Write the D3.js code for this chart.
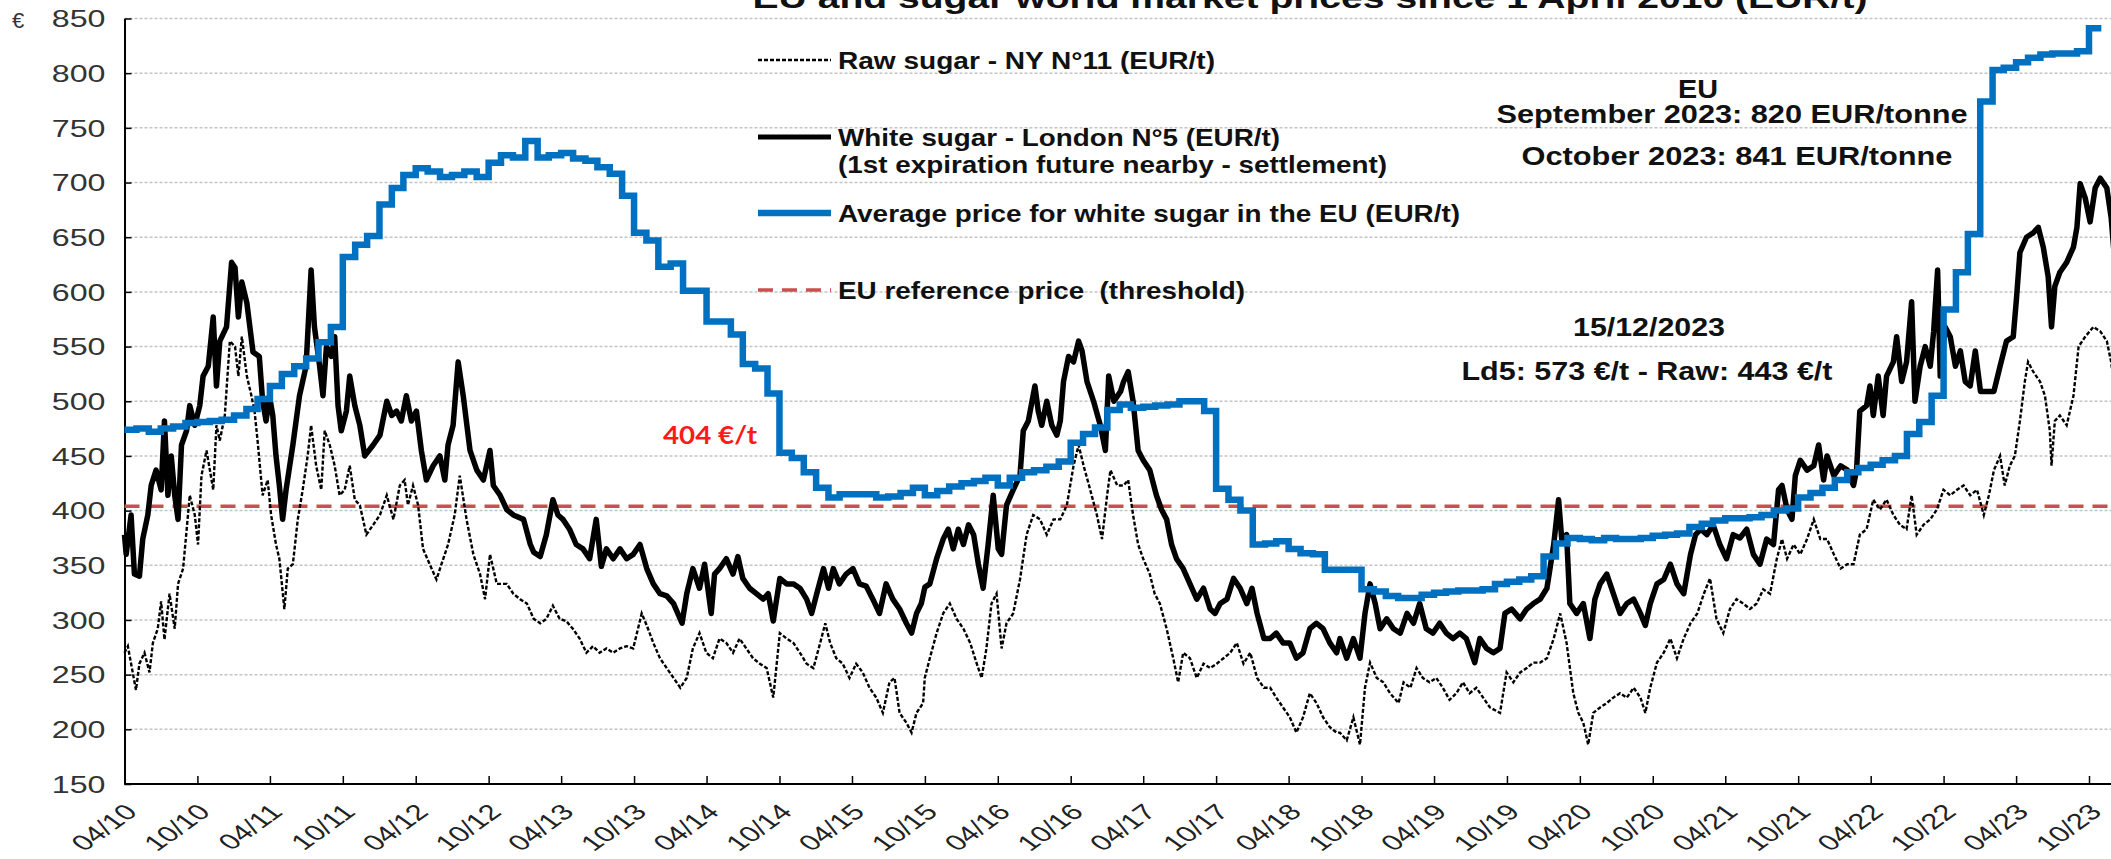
<!DOCTYPE html>
<html>
<head>
<meta charset="utf-8">
<script src="https://cdn.jsdelivr.net/npm/d3@7/dist/d3.min.js"></script>
<style>
  body { margin: 0; background: #fff; }
  svg { display: block; font-family: "Liberation Sans", Arial, sans-serif; }
</style>
</head>
<body>
<svg id="chart" width="2111" height="859"></svg>
<script>
// months are counted from 1 April 2010 (0 = 1 Apr 2010, 12 = 1 Apr 2011 ...)
const startDate = new Date(2010, 3, 1);

// EU average white sugar price, one value per month from April 2010 (EUR/t)
const euAverage = [
  474,475,472,475,477,480,481,482,483,
  487,493,502,514,525,532,539,554,568,
  632,643,651,680,695,707,713,710,705,
  707,710,705,718,725,723,738,723,725,
  727,722,720,714,708,688,654,647,623,
  626,601,601,573,573,561,534,530,507,
  453,448,435,421,412,415,415,415,412,
  413,416,421,414,418,422,425,427,430,
  423,430,435,437,440,445,462,470,476,
  492,497,494,495,496,497,500,500,491,
  420,410,400,369,370,372,365,361,360,
  346,346,346,328,326,322,320,320,323,
  325,326,327,327,328,333,335,337,340,
  358,370,375,374,373,375,374,374,375,
  377,378,379,385,388,391,393,393,394,
  396,400,402,412,416,421,428,435,439,
  442,446,450,470,481,505,584,618,653,
  774,803,805,810,814,817,818,818,820,
  841
];

// White sugar London N°5, [month, EUR/t]
const whiteSugar = [
  [0,378],[0.14,360],[0.55,396],[0.83,342],[1.24,340],[1.51,374],[1.92,396],[2.2,423],[2.61,437],
  [3.03,419],[3.3,482],[3.58,414],[3.85,450],[4.13,414],[4.4,392],[4.68,460],[5.09,473],[5.36,496],
  [5.78,478],[6.19,496],[6.46,523],[6.88,532],[7.29,577],[7.56,514],[7.84,555],[8.39,568],[8.8,627],
  [9.08,622],[9.35,577],[9.63,609],[10.04,590],[10.31,568],[10.59,545],[11.14,541],[11.41,500],
  [11.69,482],[11.96,505],[12.24,487],[12.51,450],[12.79,423],[13.06,392],[13.34,419],[13.89,460],
  [14.44,505],[14.99,532],[15.4,620],[15.67,568],[16.09,532],[16.36,505],[16.64,550],[17.05,541],
  [17.32,559],[17.6,496],[17.87,473],[18.29,491],[18.56,523],[18.97,496],[19.39,478],[19.8,450],
  [20.49,460],[21.04,469],[21.59,500],[22,487],[22.41,491],[22.82,482],[23.24,505],[23.65,482],
  [24.06,491],[24.47,455],[24.89,428],[25.44,441],[25.99,450],[26.4,428],[26.67,460],[27.09,478],
  [27.5,536],[27.91,505],[28.46,455],[29.01,437],[29.56,428],[30.11,455],[30.38,423],[30.93,414],
  [31.48,401],[32.03,396],[32.86,392],[33.41,369],[33.68,362],[34.23,358],[34.78,378],[35.33,410],
  [35.74,396],[36.15,392],[36.7,383],[37.25,369],[37.8,365],[38.35,356],[38.9,392],[39.32,349],
  [39.73,365],[40.28,356],[40.83,365],[41.38,356],[41.93,360],[42.48,369],[43.03,347],[43.58,333],
  [44.13,324],[44.68,322],[45.23,315],[45.92,297],[46.33,324],[46.88,347],[47.43,329],[47.84,351],
  [48.39,306],[48.67,342],[49.08,347],[49.63,356],[50.18,342],[50.59,358],[51,338],[51.55,329],
  [52.1,324],[52.65,319],[53.06,324],[53.48,299],[54.03,338],[54.58,333],[55.13,333],[55.68,329],
  [56.23,319],[56.64,306],[57.05,324],[57.6,347],[58.01,329],[58.43,347],[58.98,333],[59.53,342],
  [60.08,347],[60.63,333],[61.18,331],[61.72,319],[62.27,306],[62.82,333],[63.37,319],[63.92,310],
  [64.47,297],[64.89,288],[65.3,306],[65.7,315],[66,330],[66.4,333],[66.95,356],[67.5,374],
  [67.92,383],[68.33,365],[68.74,383],[69.15,369],[69.57,387],[69.98,378],[70.39,351],[70.8,329],
  [71.22,369],[71.63,414],[72.04,365],[72.32,360],[72.73,405],[73.28,419],[73.83,432],[74.1,473],
  [74.52,482],[75.07,514],[75.34,491],[75.62,478],[76.03,500],[76.44,478],[76.85,469],[77.13,482],
  [77.4,518],[77.82,541],[78.23,536],[78.64,555],[78.92,546],[79.33,518],[79.88,500],[80.43,478],
  [80.84,455],[81.11,523],[81.53,500],[82.08,509],[82.35,518],[82.76,527],[83.18,500],[83.59,455],
  [84,446],[84.55,437],[85.1,414],[85.51,401],[85.93,392],[86.34,369],[86.75,356],[87.3,347],
  [87.85,333],[88.4,319],[88.95,329],[89.5,310],[89.91,306],[90.33,315],[90.88,319],[91.43,338],
  [91.98,329],[92.52,315],[92.94,329],[93.35,306],[93.9,283],[94.45,283],[95,288],[95.55,279],
  [96.1,279],[96.65,265],[97.2,270],[97.75,292],[98.3,297],[98.85,292],[99.4,279],[99.95,270],
  [100.22,283],[100.77,265],[101.32,283],[101.87,265],[102.28,306],[102.69,333],[103.11,315],
  [103.52,292],[104.07,301],[104.62,292],[105.17,288],[105.72,306],[106.27,297],[106.82,315],
  [107.37,292],[107.92,288],[108.47,297],[109.02,288],[109.57,283],[110.12,288],[110.67,283],
  [111.36,261],[111.77,283],[112.32,274],[112.87,270],[113.42,274],[113.83,306],[114.38,310],
  [115.07,301],[115.62,310],[116.17,315],[116.72,319],[117.27,329],[117.82,369],[118.23,410],
  [118.5,374],[118.92,378],[119.19,315],[119.74,306],[120.29,315],[120.84,283],[121.25,319],
  [121.67,333],[122.22,342],[122.77,324],[123.32,306],[123.87,315],[124.42,319],[124.97,306],
  [125.38,295],[125.79,315],[126.34,333],[126.89,337],[127.44,351],[127.99,333],[128.54,324],
  [129.09,360],[129.5,378],[129.92,383],[130.47,378],[131.02,387],[131.56,369],[132.11,356],
  [132.66,378],[133.22,375],[133.77,383],[134.32,360],[134.87,351],[135.42,374],[135.97,369],
  [136.38,419],[136.66,423],[137.07,401],[137.48,392],[137.76,432],[138.17,446],[138.72,437],
  [139.27,441],[139.68,460],[140.09,428],[140.37,450],[140.92,432],[141.47,441],[142.02,437],
  [142.57,423],[142.84,437],[143.12,491],[143.67,496],[143.94,514],[144.22,487],[144.63,523],
  [145.04,487],[145.32,523],[145.87,536],[146.14,559],[146.56,518],[146.97,536],[147.38,591],
  [147.65,500],[148.07,532],[148.48,550],[148.89,532],[149.17,564],[149.5,620],[149.72,523],
  [150.13,568],[150.54,559],[150.96,532],[151.37,546],[151.78,518],[152.19,514],[152.6,546],
  [153.02,509],[153.57,509],[154.12,509],[154.67,532],[155.22,555],[155.77,559],[156.04,595],
  [156.32,636],[156.87,650],[157.42,654],[157.83,659],[158.24,641],[158.65,614],[158.93,568],
  [159.2,605],[159.61,618],[160.16,627],[160.71,641],[160.99,659],[161.26,699],[161.68,686],
  [162.09,664],[162.5,695],[162.91,704],[163.46,695],[163.82,668],[164.1,630],[164.47,573]
];

// Raw sugar NY N°11, [month, EUR/t]
const rawSugar = [
  [0,270],[0.28,276],[0.96,236],[1.24,260],[1.65,270],[2.06,252],[2.34,279],[2.75,292],[3.03,317],
  [3.3,282],[3.71,324],[4.13,292],[4.4,333],[4.81,347],[5.36,414],[5.78,396],[6.05,369],[6.33,432],
  [6.74,455],[7.29,419],[7.56,478],[7.84,464],[8.25,487],[8.66,555],[9.08,550],[9.35,523],[9.63,559],
  [10.04,523],[10.45,505],[10.73,491],[11,464],[11.41,414],[11.82,428],[12.1,396],[12.51,369],
  [12.79,356],[13.2,310],[13.48,347],[13.89,351],[14.3,392],[14.71,419],[15.12,450],[15.4,478],
  [15.81,441],[16.22,419],[16.5,473],[16.91,460],[17.32,441],[17.73,414],[18.15,419],[18.56,441],
  [18.97,410],[19.39,405],[19.94,378],[20.49,387],[21.04,396],[21.59,414],[22.14,392],[22.69,423],
  [23.1,428],[23.37,405],[23.78,423],[24.2,405],[24.61,365],[25.16,351],[25.71,337],[26.12,351],
  [26.67,369],[27.22,396],[27.63,432],[28.18,392],[28.73,360],[29.28,342],[29.7,319],[30.11,360],
  [30.66,333],[31.48,333],[32.03,324],[32.58,319],[33.13,315],[33.68,301],[34.23,297],[34.78,301],
  [35.33,313],[35.88,301],[36.43,299],[36.98,292],[37.53,283],[38.08,270],[38.63,276],[39.18,270],
  [39.73,274],[40.28,270],[40.83,274],[41.38,276],[41.93,274],[42.62,306],[43.03,295],[43.58,279],
  [44.13,265],[44.68,256],[45.23,247],[45.78,238],[46.33,247],[46.88,274],[47.43,288],[47.98,270],
  [48.53,265],[49.08,283],[49.63,279],[50.18,270],[50.73,283],[51.28,274],[51.83,265],[52.38,260],
  [52.93,256],[53.48,229],[54.03,288],[54.58,283],[55.13,279],[55.68,270],[56.23,260],[56.78,256],
  [57.33,279],[57.74,297],[58.15,279],[58.7,265],[59.25,260],[59.8,247],[60.35,260],[60.9,252],
  [61.45,238],[62,229],[62.55,215],[63.1,243],[63.51,247],[63.92,215],[64.47,206],[64.89,197],
  [65.3,215],[65.85,224],[65.99,247],[66.4,265],[66.95,288],[67.5,306],[68.05,315],[68.6,301],
  [69.15,292],[69.7,279],[70.25,260],[70.67,247],[71.08,274],[71.49,315],[71.9,324],[72.32,274],
  [72.73,297],[73.28,306],[73.83,337],[74.38,378],[74.93,396],[75.48,392],[76.03,378],[76.58,392],
  [77.13,392],[77.68,405],[78.23,441],[78.64,460],[79.05,441],[79.6,419],[80.15,396],[80.57,374],
  [80.98,414],[81.25,437],[81.8,423],[82.35,423],[82.76,428],[83.18,396],[83.59,369],[84,356],
  [84.55,342],[84.96,324],[85.38,315],[85.93,292],[86.48,265],[86.89,243],[87.3,270],[87.85,265],
  [88.4,247],[88.95,260],[89.5,256],[90.05,260],[90.6,265],[91.15,270],[91.7,279],[92.25,260],
  [92.8,270],[93.35,247],[93.9,238],[94.45,238],[95,229],[95.55,220],[96.1,211],[96.65,197],
  [97.2,211],[97.75,233],[98.3,224],[98.85,211],[99.4,202],[99.95,197],[100.22,197],[100.77,190],
  [101.32,211],[101.87,186],[102.28,238],[102.69,261],[103.24,247],[103.79,243],[104.34,233],
  [105.03,224],[105.44,243],[105.99,238],[106.54,256],[107.09,247],[107.64,243],[108.19,247],
  [108.74,238],[109.29,227],[109.84,233],[110.39,243],[110.94,233],[111.49,238],[112.04,229],
  [112.59,220],[113.42,215],[113.97,252],[114.52,243],[115.07,252],[115.62,256],[116.17,261],
  [116.72,261],[117.27,265],[117.82,283],[118.37,306],[118.92,279],[119.47,233],[119.88,215],
  [120.29,206],[120.7,186],[121.12,215],[121.67,220],[122.22,224],[122.77,229],[123.32,233],
  [123.87,229],[124.42,238],[124.97,229],[125.38,215],[125.79,238],[126.34,261],[126.89,270],
  [127.44,283],[127.99,265],[128.54,283],[129.09,297],[129.64,306],[130.19,324],[130.74,338],
  [131.29,301],[131.84,288],[132.39,310],[132.94,319],[133.49,315],[134.04,310],[134.59,315],
  [135.14,328],[135.69,324],[136.24,356],[136.66,374],[137.07,356],[137.62,369],[138.17,360],
  [138.72,374],[139.27,392],[139.82,374],[140.37,374],[140.92,360],[141.47,347],[142.02,351],
  [142.57,351],[143.12,378],[143.67,383],[144.22,410],[144.77,401],[145.32,410],[145.87,396],
  [146.42,387],[146.97,383],[147.38,414],[147.79,378],[148.34,387],[148.89,392],[149.44,401],
  [149.99,419],[150.54,414],[151.09,419],[151.64,423],[152.19,414],[152.74,419],[153.29,396],
  [153.7,414],[154.12,437],[154.67,450],[155.08,423],[155.49,441],[155.9,450],[156.32,482],
  [156.73,518],[157,536],[157.42,527],[157.97,518],[158.38,505],[158.79,473],[158.93,441],
  [159.2,482],[159.61,487],[160.16,478],[160.71,505],[161.13,550],[161.68,559],[162.36,568],
  [162.91,564],[163.46,555],[163.82,536],[164.2,500],[164.47,443]
];

const referencePrice = 404;
const yTicks = d3.range(150, 851, 50);

function monthToDate(m) {
  const i = Math.floor(m);
  const a = d3.timeMonth.offset(startDate, i), b = d3.timeMonth.offset(startDate, i + 1);
  return new Date(+a + (m - i) * (b - a));
}

const svg = d3.select("#chart"),
      width = +svg.attr("width"),
      height = +svg.attr("height");

const x = d3.scaleTime().domain([startDate, new Date(2023, 9, 1)]).range([124.5, 2089]);
const y = d3.scaleLinear().domain([150, 850]).range([784, 18.5]);
const stretch = 1.4; // the source picture is widened horizontally

svg.append("rect").attr("width", width).attr("height", height).attr("fill", "#fff");

// gridlines
svg.append("g").selectAll("line").data(yTicks.slice(1)).join("line")
  .attr("x1", x.range()[0]).attr("x2", width)
  .attr("y1", d => y(d)).attr("y2", d => y(d))
  .attr("stroke", "#c4c4c4").attr("stroke-width", 1.5).attr("stroke-dasharray", "3,2");

// title (cut by the top edge, as in the source)
svg.append("text").attr("x", 1310).attr("y", 8).attr("text-anchor", "middle")
  .attr("font-size", 30).attr("font-weight", "bold").attr("fill", "#111")
  .attr("textLength", 1115).attr("lengthAdjust", "spacingAndGlyphs")
  .text("EU and sugar world market prices since 1 April 2010 (EUR/t)");

// axes
const yAxis = svg.append("g").attr("transform", "translate(" + x.range()[0] + ",0)")
  .call(d3.axisLeft(y).tickValues(yTicks).tickSize(-7).tickSizeOuter(0));
yAxis.select(".domain").attr("stroke", "#000").attr("stroke-width", 2);
yAxis.selectAll(".tick line").attr("stroke", "#000").attr("stroke-width", 1.5);
yAxis.selectAll("text").attr("x", 0).attr("dy", "0.36em")
  .attr("transform", "translate(-19,0) scale(" + stretch + ",1)")
  .attr("font-size", 23).attr("fill", "#333").attr("font-family", "'Liberation Sans', Arial, sans-serif");

const xTicks = d3.timeMonth.range(startDate, new Date(2023, 10, 1), 6);
const xAxis = svg.append("g").attr("transform", "translate(0," + y(150) + ")")
  .call(d3.axisBottom(x).tickValues(xTicks).tickFormat(d3.timeFormat("%m/%y")).tickSize(-8).tickSizeOuter(0));
xAxis.select(".domain").attr("stroke", "#000").attr("stroke-width", 2).attr("d", "M" + x.range()[0] + ",0H" + width);
xAxis.selectAll(".tick line").attr("stroke", "#000").attr("stroke-width", 1.5);
xAxis.selectAll("text").attr("y", 0).attr("dy", "0.35em").attr("text-anchor", "end")
  .attr("transform", "translate(6,24) scale(" + stretch + ",1) rotate(-45)")
  .attr("font-size", 22).attr("fill", "#222").attr("font-family", "'Liberation Sans', Arial, sans-serif");

svg.append("text").attr("x", 18).attr("y", 28).attr("text-anchor", "middle")
  .attr("font-size", 22).attr("fill", "#333").text("€");

const plot = svg.append("g");

// reference price
plot.append("line").attr("x1", x.range()[0]).attr("x2", width)
  .attr("y1", y(referencePrice)).attr("y2", y(referencePrice))
  .attr("stroke", "#c9504c").attr("stroke-width", 3.5).attr("stroke-dasharray", "15,9");

const line = d3.line().x(d => x(monthToDate(d[0]))).y(d => y(d[1]));

plot.append("path").datum(rawSugar).attr("d", line)
  .attr("fill", "none").attr("stroke", "#000").attr("stroke-width", 2.4).attr("stroke-dasharray", "4,2");

plot.append("path").datum(whiteSugar).attr("d", line)
  .attr("fill", "none").attr("stroke", "#000").attr("stroke-width", 5.5).attr("stroke-linejoin", "round");

const euSteps = euAverage.map((v, i) => [i, v]).concat([[euAverage.length, euAverage[euAverage.length - 1]]]);
plot.append("path").datum(euSteps).attr("d", line.curve(d3.curveStepAfter))
  .attr("fill", "none").attr("stroke", "#0070c0").attr("stroke-width", 6.5);

// legend
const legend = [
  {label: "Raw sugar - NY N°11 (EUR/t)", y: 60, w: 377, stroke: "#000", sw: 2.4, dash: "4,2"},
  {label: "White sugar - London N°5 (EUR/t)", y: 137, w: 442, stroke: "#000", sw: 5, dash: null},
  {label: "Average price for white sugar in the EU (EUR/t)", y: 213, w: 622, stroke: "#0070c0", sw: 6.5, dash: null},
  {label: "EU reference price\u00a0\u00a0(threshold)", y: 290, w: 407, stroke: "#c9504c", sw: 3.5, dash: "15,9"}
];
const lg = svg.append("g");
legend.forEach(d => {
  lg.append("line").attr("x1", 758).attr("x2", 831).attr("y1", d.y).attr("y2", d.y)
    .attr("stroke", d.stroke).attr("stroke-width", d.sw).attr("stroke-dasharray", d.dash);
  lg.append("text").attr("x", 838).attr("y", d.y + 8.5).attr("font-size", 24).attr("font-weight", "bold")
    .attr("textLength", d.w).attr("lengthAdjust", "spacingAndGlyphs").attr("fill", "#111").text(d.label);
});
lg.append("text").attr("x", 838).attr("y", 173).attr("font-size", 24).attr("font-weight", "bold")
  .attr("textLength", 549).attr("lengthAdjust", "spacingAndGlyphs").attr("fill", "#111")
  .text("(1st expiration future nearby - settlement)");

// annotations
const notes = [
  {t: "EU", x: 1698, y: 98, w: 40},
  {t: "September 2023: 820 EUR/tonne", x: 1732, y: 123, w: 471},
  {t: "October 2023: 841 EUR/tonne", x: 1737, y: 165, w: 431},
  {t: "15/12/2023", x: 1649, y: 336, w: 152},
  {t: "Ld5: 573 €/t - Raw: 443 €/t", x: 1647, y: 380, w: 371}
];
svg.append("g").selectAll("text").data(notes).join("text")
  .attr("x", d => d.x).attr("y", d => d.y).attr("text-anchor", "middle")
  .attr("font-size", 25).attr("font-weight", "bold").attr("fill", "#111")
  .attr("textLength", d => d.w).attr("lengthAdjust", "spacingAndGlyphs").text(d => d.t);

svg.append("text").attr("x", 710).attr("y", 444).attr("text-anchor", "middle")
  .attr("font-family", "Lato, 'Open Sans', sans-serif").attr("font-size", 24).attr("font-weight", "bold")
  .attr("fill", "#ff1a1a").attr("textLength", 94).attr("lengthAdjust", "spacingAndGlyphs").text("404 €/t");
</script>
</body>
</html>
